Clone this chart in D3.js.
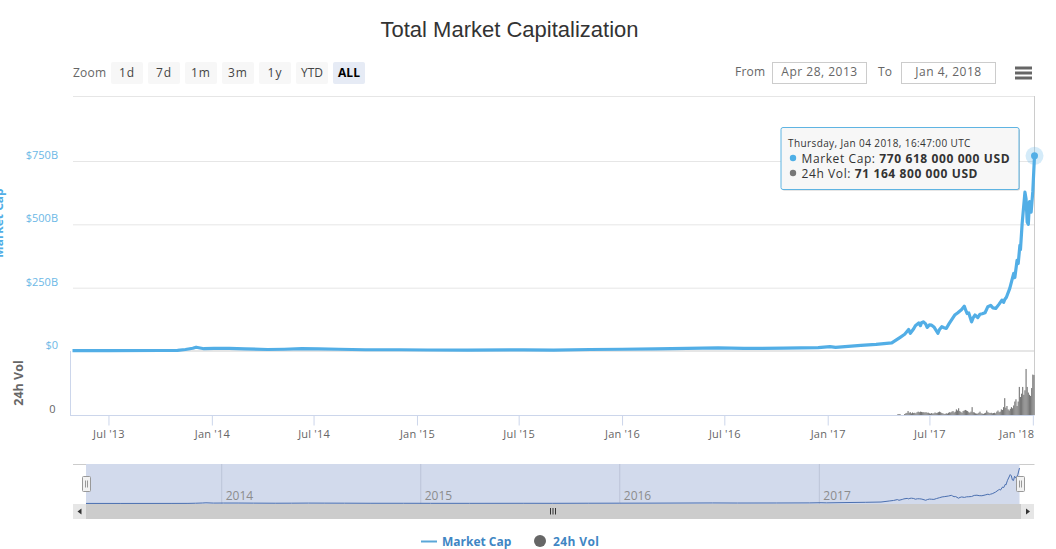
<!DOCTYPE html>
<html>
<head>
<meta charset="utf-8">
<title>Total Market Capitalization</title>
<script src="https://cdnjs.cloudflare.com/ajax/libs/d3/7.8.5/d3.min.js"></script>
<style>
  html, body { margin: 0; padding: 0; background: #fff; overflow: hidden; }
  svg, svg text { font-family: "Open Sans", "DejaVu Sans", sans-serif; }
  svg { display: block; }
</style>
</head>
<body>
<svg id="chart" width="1056" height="549"></svg>
<script>
// Data ---------------------------------------------------------------
const capDates = [
  "2013-04-28","2013-07-01","2013-10-01","2013-11-01","2013-11-15","2013-11-28","2013-12-04","2013-12-18","2014-01-05",
  "2014-02-01","2014-03-01","2014-04-10","2014-05-10","2014-06-10","2014-07-10","2014-08-15","2014-10-01","2014-12-01",
  "2015-01-20","2015-04-01","2015-07-10","2015-09-01","2015-11-05","2016-01-01","2016-03-01","2016-06-20","2016-08-05",
  "2016-10-15","2016-12-15","2017-01-05","2017-01-15","2017-03-01","2017-03-28","2017-04-25","2017-05-10","2017-05-18",
  "2017-05-25","2017-05-28","2017-06-03","2017-06-06","2017-06-12","2017-06-15","2017-06-17","2017-06-20","2017-06-24",
  "2017-06-27","2017-07-01","2017-07-05","2017-07-09","2017-07-16","2017-07-19","2017-07-23","2017-07-27","2017-07-31",
  "2017-08-05","2017-08-10","2017-08-15","2017-08-20","2017-08-27","2017-09-01","2017-09-03","2017-09-06","2017-09-09",
  "2017-09-14","2017-09-17","2017-09-20","2017-09-25","2017-09-29","2017-10-03","2017-10-08","2017-10-13","2017-10-18",
  "2017-10-22","2017-10-27","2017-11-02","2017-11-07","2017-11-10","2017-11-12","2017-11-15","2017-11-21","2017-11-26",
  "2017-11-28","2017-11-30","2017-12-04","2017-12-06","2017-12-09","2017-12-10","2017-12-13","2017-12-18","2017-12-20",
  "2017-12-22","2017-12-24","2017-12-26","2017-12-29","2018-01-01","2018-01-04"
];
const capValues = [
  1.5,1.2,2,2.5,6,11,15,9,10,
  10,8,6,7,9,8,7,5,5,
  4,3.5,4.5,3.8,6,7,8,12,10,
  11,13,17,14,22,26,32,54,66,
  85,70,88,100,111,100,112,115,108,
  93,103,102,95,70,85,96,92,89,
  108,125,142,150,163,177,165,148,150,
  115,132,142,132,145,147,151,175,180,
  170,168,185,201,192,203,212,247,290,
  306,290,358,345,417,400,503,627,600,
  509,500,590,548,630,770.6
];
const volStart = "2017-05-06";   // one bar every 2 days from here
const volValues = [
  1.5,1.8,1.2,0,0,0,1.8,3,3.8,7,4,5,3,4.5,3.5,4,3,5,6,5,
  6,5.5,5,5,4.5,5,4,4.2,3,2.5,3.5,2.5,3,4.5,3.5,4,5,6,5,3.5,
  3,2,2,3,2.5,4,5,4.5,6,7,4.5,6,10,8,12,7,5.5,4,7,8,
  9,8,7,5,4,6,14,5,4.5,3,2.5,2.5,4,6,3,2.5,2,3,4,8,
  5,4,3.5,4,3,3.5,4,3,6,8,5,6,10,9,14,30,13,16,10,8,
  11,14,12,17,24,28,16,24,50,32,38,50,36,44,82,50,40,36,34,48,
  72,71.16
];
const capTicks = [0, 250, 500, 750];
const capTickLabels = ["$0", "$250B", "$500B", "$750B"];
const xTicks = ["2013-07-01","2014-01-01","2014-07-01","2015-01-01","2015-07-01","2016-01-01","2016-07-01","2017-01-01","2017-07-01","2018-01-01"];
const navTicks = ["2014-01-01","2015-01-01","2016-01-01","2017-01-01"];
const zoomButtons = ["1d", "7d", "1m", "3m", "1y", "YTD", "ALL"];
const dateFrom = "Apr 28, 2013";
const dateTo = "Jan 4, 2018";
const tipLines = [
  { label: "Market Cap: ", value: "770 618 000 000 USD", color: "#4fafe6" },
  { label: "24h Vol: ", value: "71 164 800 000 USD", color: "#777" }
];
const tipTitle = "Thursday, Jan 04 2018, 16:47:00 UTC";

// Colours ------------------------------------------------------------
const capColor = "#52aee6", labelBlue = "#6cb8e6", textGrey = "#666";

const parse = d3.utcParse("%Y-%m-%d");
const capData = capDates.map((d, i) => ({ date: parse(d), value: capValues[i] }));
const volData = volValues.map((v, i) => ({ date: d3.utcDay.offset(parse(volStart), i * 2), value: v }));
const domain = [parse("2013-04-28"), parse("2018-01-04")];

const svg = d3.select("#chart");

// Scales -------------------------------------------------------------
const x = d3.scaleUtc().domain(domain).range([72.5, 1034.5]);
const yCap = d3.scaleLinear().domain([0, 750]).range([351, 161]);
const yVol = d3.scaleLinear().domain([0, 114]).range([415, 351]);
const xNav = d3.scaleUtc().domain(domain).range([86, 1019.5]);
const yNav = d3.scaleLinear().domain([0, 770]).range([503.5, 468]);

// Title --------------------------------------------------------------
svg.append("text")
  .attr("x", 509.5).attr("y", 37)
  .attr("text-anchor", "middle")
  .style("font-family", "'Liberation Sans', Arial, sans-serif")
  .style("font-size", "22px").attr("fill", "#333")
  .text("Total Market Capitalization");

// Range selector -----------------------------------------------------
svg.append("text").attr("x", 73).attr("y", 77)
  .style("font-size", "12px").style("letter-spacing", ".2px").attr("fill", textGrey).text("Zoom");

const btn = svg.append("g").selectAll("g").data(zoomButtons).join("g")
  .attr("transform", (d, i) => `translate(${111 + i * 37},62)`);
btn.append("rect")
  .attr("width", 32).attr("height", 22).attr("rx", 2)
  .attr("fill", d => d === "ALL" ? "#e6ebf5" : "#f7f7f7");
btn.append("text")
  .attr("x", 16).attr("y", 14.5).attr("text-anchor", "middle")
  .style("font-size", "12px")
  .style("letter-spacing", d => d === "ALL" || d === "YTD" ? "0" : "1px")
  .style("font-weight", d => d === "ALL" ? "bold" : "normal")
  .attr("fill", d => d === "ALL" ? "#000" : "#444")
  .text(d => d);

function dateBox(label, labelX, boxX, value) {
  svg.append("text").attr("x", labelX).attr("y", 76)
    .style("font-size", "12px").style("letter-spacing", ".2px").attr("fill", textGrey).text(label);
  svg.append("rect").attr("x", boxX + .5).attr("y", 62.5)
    .attr("width", 94).attr("height", 21)
    .attr("fill", "#fff").attr("stroke", "#ccc");
  svg.append("text").attr("x", boxX + 47.5).attr("y", 76)
    .attr("text-anchor", "middle")
    .style("font-size", "12px").style("letter-spacing", ".5px").attr("fill", "#666").text(value);
}
dateBox("From", 735, 772, dateFrom);
dateBox("To", 878, 901, dateTo);

// Menu icon
svg.append("g").selectAll("line").data([68, 73, 78]).join("line")
  .attr("x1", 1015).attr("x2", 1032)
  .attr("y1", d => d).attr("y2", d => d)
  .attr("stroke", "#666").attr("stroke-width", 3);

// Grid + y axes ------------------------------------------------------
svg.append("line").attr("x1", 73).attr("x2", 1034.5).attr("y1", 96.5).attr("y2", 96.5).attr("stroke", "#e6e6e6");

const capAxis = svg.append("g")
  .attr("transform", "translate(73,0)")
  .call(d3.axisLeft(yCap).tickValues(capTicks)
    .tickSize(0).tickPadding(15)
    .tickFormat((d, i) => capTickLabels[i]));
capAxis.select(".domain").remove();
capAxis.selectAll("text")
  .attr("dy", "-2.6px")
  .style("font-size", "11px")
  .attr("fill", labelBlue);
capAxis.selectAll("line")
  .attr("x2", 961.5).attr("stroke", "#e6e6e6");

svg.append("line").attr("x1", 73).attr("x2", 1034.5).attr("y1", 351).attr("y2", 351)
  .attr("stroke", "#e6e6e6").attr("stroke-width", 2);

const volAxis = svg.append("g")
  .attr("transform", "translate(70.5,0)")
  .call(d3.axisLeft(yVol).tickValues([0]).tickSize(0).tickPadding(15));
volAxis.select(".domain").attr("stroke", "#ccd6eb").attr("d", "M0,351V415");
volAxis.selectAll("text")
  .attr("dy", "-2.6px")
  .style("font-size", "11px")
  .attr("fill", textGrey);

svg.append("line").attr("x1", 1034.5).attr("x2", 1034.5).attr("y1", 96).attr("y2", 415).attr("stroke", "#ccc");

// Axis titles (the first one runs off the left edge, as in the original)
svg.append("text")
  .attr("transform", "translate(3,223) rotate(-90)")
  .attr("text-anchor", "middle")
  .style("font-size", "12px").style("font-weight", "bold")
  .attr("fill", capColor).text("Market Cap");
svg.append("text")
  .attr("transform", "translate(23,383) rotate(-90)")
  .attr("text-anchor", "middle")
  .style("font-size", "12.5px").style("font-weight", "bold")
  .attr("fill", "#666").text("24h Vol");

// X axis -------------------------------------------------------------
const xAxis = svg.append("g")
  .attr("transform", "translate(0,415.5)")
  .call(d3.axisBottom(x).tickValues(xTicks.map(parse))
    .tickSize(10).tickPadding(5)
    .tickFormat(d3.utcFormat("%b '%y")));
xAxis.select(".domain").attr("stroke", "#ccd6eb").attr("d", "M70,0H1034.5");
xAxis.selectAll("line").attr("stroke", "#ccd6eb");
xAxis.selectAll("text")
  .style("font-size", "11px")
  .style("letter-spacing", ".2px")
  .attr("fill", textGrey);
// last label is pulled back inside the plot
xAxis.selectAll(".tick:last-of-type text")
  .attr("text-anchor", "end").attr("x", 1);

// Volume bars --------------------------------------------------------
const barW = x(d3.utcDay.offset(domain[0], 2)) - x(domain[0]);
svg.append("g").attr("fill", "#777")
  .selectAll("rect").data(volData.filter(d => d.value > 0)).join("rect")
    .attr("x", d => x(d.date) - barW / 2)
    .attr("width", barW)
    .attr("y", d => yVol(d.value))
    .attr("height", d => yVol(0) - yVol(d.value));

// Market cap line ----------------------------------------------------
const capLine = d3.line().x(d => x(d.date)).y(d => yCap(d.value)).curve(d3.curveLinear);
svg.append("path").datum(capData)
  .attr("d", capLine)
  .attr("fill", "none").attr("stroke", capColor)
  .attr("stroke-width", 3.2).attr("stroke-linejoin", "round");

// Hover marker
const last = capData[capData.length - 1];
svg.append("circle").attr("cx", x(last.date)).attr("cy", yCap(last.value)).attr("r", 9)
  .attr("fill", capColor).attr("fill-opacity", .25);
svg.append("circle").attr("cx", x(last.date)).attr("cy", yCap(last.value)).attr("r", 3.5)
  .attr("fill", capColor);

// Tooltip ------------------------------------------------------------
const tip = svg.append("g").attr("transform", "translate(781,127.5)");
tip.append("rect").attr("x", 1).attr("y", 1)
  .attr("width", 238).attr("height", 62).attr("rx", 2)
  .attr("fill", "#000").attr("fill-opacity", .2);
tip.append("rect").attr("width", 238).attr("height", 62).attr("rx", 2)
  .attr("fill", "#f7f7f7").attr("stroke", "#5fb4e2");
tip.append("text").attr("x", 7).attr("y", 19)
  .style("font-size", "10px").style("letter-spacing", ".4px").attr("fill", "#333").text(tipTitle);
const row = tip.selectAll("g.row").data(tipLines).join("g")
  .attr("class", "row")
  .attr("transform", (d, i) => `translate(0,${30.5 + i * 15})`);
row.append("circle").attr("cx", 12).attr("r", 3.2).attr("fill", d => d.color);
const rowText = row.append("text").attr("x", 20.5).attr("y", 4.5)
  .style("font-size", "12px").style("letter-spacing", ".6px").attr("fill", "#333");
rowText.append("tspan").text(d => d.label);
rowText.append("tspan").style("font-weight", "bold").text(d => d.value);

// Navigator ----------------------------------------------------------
svg.append("line").attr("x1", 73).attr("x2", 1034.5).attr("y1", 464.5).attr("y2", 464.5).attr("stroke", "#ccc");
svg.append("rect")
  .attr("x", xNav(domain[0])).attr("y", 464)
  .attr("width", xNav(domain[1]) - xNav(domain[0])).attr("height", 40)
  .attr("fill", "#d2daec");

const navAxis = svg.append("g")
  .attr("transform", "translate(0,464)")
  .call(d3.axisBottom(xNav).tickValues(navTicks.map(parse))
    .tickSize(40).tickPadding(0)
    .tickFormat(d3.utcFormat("%Y")));
navAxis.select(".domain").remove();
navAxis.selectAll("line").attr("stroke", "#bcc4d8");
navAxis.selectAll("text")
  .attr("text-anchor", "start").attr("x", 4).attr("y", 32).attr("dy", "0.32em")
  .style("font-size", "12px")
  .attr("fill", "#8c8c8c");

const navLine = d3.line().x(d => xNav(d.date)).y(d => yNav(d.value));
svg.append("path").datum(capData)
  .attr("d", navLine)
  .attr("fill", "none").attr("stroke", "#4a6fb0").attr("stroke-width", 1);

// Scrollbar
svg.append("rect").attr("x", 86).attr("y", 504).attr("width", 935).attr("height", 15).attr("fill", "#ccc");
svg.append("rect").attr("x", 73).attr("y", 504).attr("width", 13).attr("height", 15).attr("fill", "#e6e6e6");
svg.append("rect").attr("x", 1021).attr("y", 504).attr("width", 13).attr("height", 15).attr("fill", "#e6e6e6");
svg.append("path").attr("d", "M81.5,508.5V514.5L77.5,511.5Z").attr("fill", "#333");
svg.append("path").attr("d", "M1026,508.5V514.5L1030,511.5Z").attr("fill", "#333");
svg.append("g").selectAll("line").data([550.5, 553, 555.5]).join("line")
  .attr("x1", d => d).attr("x2", d => d).attr("y1", 508).attr("y2", 514.5)
  .attr("stroke", "#333");

// Navigator handles
const handle = svg.append("g").selectAll("g").data([86.5, 1020.5]).join("g")
  .attr("transform", d => `translate(${d},476.5)`);
handle.append("rect").attr("x", -4).attr("width", 8).attr("height", 15).attr("rx", 1)
  .attr("fill", "#f2f2f2").attr("stroke", "#999");
handle.selectAll("line").data([-1, 1]).join("line")
  .attr("x1", d => d).attr("x2", d => d).attr("y1", 4).attr("y2", 11)
  .attr("stroke", "#999");

// Legend -------------------------------------------------------------
svg.append("line").attr("x1", 421).attr("x2", 437).attr("y1", 541.5).attr("y2", 541.5)
  .attr("stroke", "#5aa7d8").attr("stroke-width", 2);
svg.append("text").attr("x", 442).attr("y", 546)
  .style("font-size", "12px").style("font-weight", "bold").attr("fill", "#3f86c4").text("Market Cap");
svg.append("circle").attr("cx", 540).attr("cy", 541).attr("r", 6).attr("fill", "#666");
svg.append("text").attr("x", 553).attr("y", 546)
  .style("font-size", "12px").style("font-weight", "bold").style("letter-spacing", ".4px").attr("fill", "#3f86c4").text("24h Vol");
</script>
</body>
</html>
